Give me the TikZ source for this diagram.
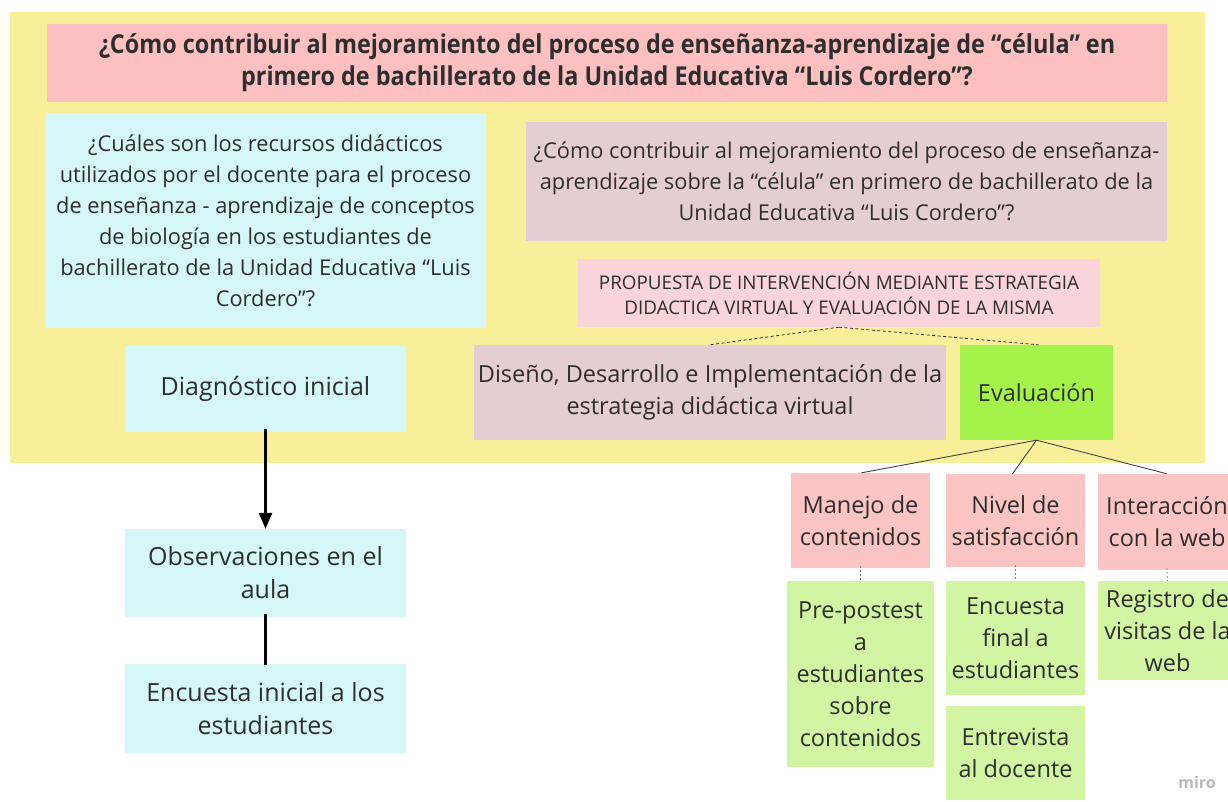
\documentclass[tikz,border=0pt]{standalone}
\usepackage{fontspec}
\setmainfont{Open Sans}
\usetikzlibrary{arrows.meta}
\definecolor{bgyellow}{HTML}{F9EF9B}
\definecolor{titlered}{HTML}{FDC0C0}
\definecolor{qcyan}{HTML}{D5F7F7}
\definecolor{qmauve}{HTML}{E4CED3}
\definecolor{proppink}{HTML}{F9D4D9}
\definecolor{evalgreen}{HTML}{A4F24A}
\definecolor{cpink}{HTML}{FCC5C3}
\definecolor{lgreen}{HTML}{D1F5A2}
\definecolor{txt}{HTML}{2E2E2E}
\tikzset{
  box/.style={inner sep=0pt, align=center, text=txt, font=\fontsize{21.8}{31}\selectfont},
  big/.style={font=\fontsize{23.5}{32}\selectfont},
  left/.style={font=\fontsize{25}{33}\selectfont},
  conn/.style={draw=txt!90, line width=0.9pt},
  dotc/.style={draw=gray, line width=0.8pt, dash pattern=on 1.5pt off 2.5pt},
  dashc/.style={draw=txt, line width=0.8pt, dash pattern=on 3pt off 2.5pt},
}
\begin{document}
\begin{tikzpicture}[x=1pt,y=-1pt]
\clip (0,0) rectangle (1228,802);
\fill[white] (0,0) rectangle (1228,802);
\fill[bgyellow] (10,12) rectangle (1205,463);
% title
\node[box, fill=titlered, minimum width=1120pt, minimum height=78pt,
  font=\bfseries\fontsize{26}{32}\selectfont\addfontfeature{FakeStretch=0.9}] (title) at (607,63)
  {¿Cómo contribuir al mejoramiento del proceso de enseñanza-aprendizaje de “célula” en\\primero de bachillerato de la Unidad Educativa “Luis Cordero”?};
\node[box, fill=qcyan, minimum width=441pt, minimum height=215pt] (q1) at (265.5,220.5)
  {¿Cuáles son los recursos didácticos\\utilizados por el docente para el proceso\\de enseñanza - aprendizaje de conceptos\\de biología en los estudiantes de\\bachillerato de la Unidad Educativa “Luis\\Cordero”?};
\node[box, fill=qmauve, minimum width=641pt, minimum height=119pt] (q2) at (846.5,181.5)
  {¿Cómo contribuir al mejoramiento del proceso de enseñanza-\\aprendizaje sobre la “célula” en primero de bachillerato de la\\Unidad Educativa “Luis Cordero”?};
\node[box, fill=proppink, minimum width=522pt, minimum height=68pt, font=\fontsize{18.8}{25}\selectfont] (prop) at (839,293)
  {PROPUESTA DE INTERVENCIÓN MEDIANTE ESTRATEGIA\\DIDACTICA VIRTUAL Y EVALUACIÓN DE LA MISMA};
\node[box, big, fill=qmauve, minimum width=472pt, minimum height=95pt] (dis) at (710,392.5)
  {Diseño, Desarrollo e Implementación de la\\estrategia didáctica virtual};
\node[box, big, fill=evalgreen, minimum width=153pt, minimum height=95pt] (eval) at (1036.5,392.5)
  {Evaluación};
\node[box, left, fill=qcyan, minimum width=281pt, minimum height=86pt] (diag) at (265.5,389)
  {Diagnóstico inicial};
\node[box, left, fill=qcyan, minimum width=281pt, minimum height=88pt] (obs) at (265.5,573)
  {Observaciones en el\\aula};
\node[box, left, fill=qcyan, minimum width=281pt, minimum height=89pt] (enc) at (265.5,708.5)
  {Encuesta inicial a los\\estudiantes};
\node[box, big, fill=cpink, minimum width=139pt, minimum height=95pt] (man) at (860.5,520.5)
  {Manejo de\\contenidos};
\node[box, big, fill=cpink, minimum width=139pt, minimum height=93pt] (niv) at (1015.5,520.5)
  {Nivel de\\satisfacción};
\node[box, big, fill=cpink, minimum width=139pt, minimum height=96pt] (inter) at (1167,522)
  {Interacción\\con la web};
\node[box, big, fill=lgreen, minimum width=147pt, minimum height=186pt] (pre) at (860.5,674)
  {Pre-postest\\a\\estudiantes\\sobre\\contenidos};
\node[box, big, fill=lgreen, minimum width=139pt, minimum height=114pt] (encf) at (1015.5,638)
  {Encuesta\\final a\\estudiantes};
\node[box, big, fill=lgreen, minimum width=139pt, minimum height=94pt] (entr) at (1015.5,753)
  {Entrevista\\al docente};
\node[box, big, fill=lgreen, minimum width=139pt, minimum height=99pt] (reg) at (1167.5,630.5)
  {Registro de\\visitas de la\\web};
\node[text=gray!55, font=\bfseries\fontsize{16}{18}\selectfont] (miro) at (1197,782) {miro};
% connectors
\draw[-{Triangle[length=16pt,width=13pt]}, line width=2.6pt] ([yshift=3pt]diag.south) -- (obs.north);
\draw[line width=2.6pt] ([yshift=3pt]obs.south) -- ([yshift=-1pt]enc.north);
\draw[dashc] (prop.south) -- (dis.north);
\draw[dashc] (prop.south) -- ([xshift=2pt]eval.north);
\draw[conn] (eval.south) -- ([xshift=1pt]man.north);
\draw[conn] (eval.south) -- ([xshift=-3pt]niv.north);
\draw[conn] (eval.south) -- (inter.north);
\draw[dotc] ([yshift=2pt]man.south) -- (pre.north);
\draw[dotc] ([yshift=2pt]niv.south) -- (encf.north);
\draw[dotc] ([yshift=2pt]inter.south) -- (reg.north);
\end{tikzpicture}
\end{document}
